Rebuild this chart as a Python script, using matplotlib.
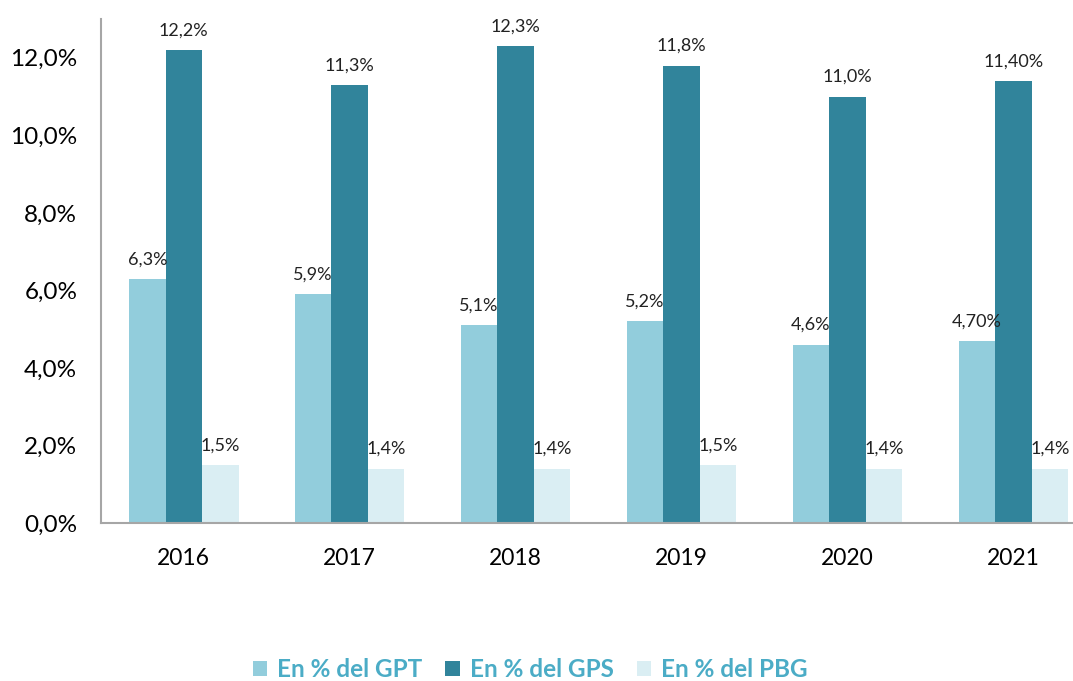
import matplotlib.pyplot as plt
import numpy as np

plt.rcParams['font.family'] = ['Lato', 'DejaVu Sans']

years = ['2016', '2017', '2018', '2019', '2020', '2021']
gpt = [6.3, 5.9, 5.1, 5.2, 4.6, 4.7]
gps = [12.2, 11.3, 12.3, 11.8, 11.0, 11.4]
pbg = [1.5, 1.4, 1.4, 1.5, 1.4, 1.4]
gpt_lbl = ['6,3%', '5,9%', '5,1%', '5,2%', '4,6%', '4,70%']
gps_lbl = ['12,2%', '11,3%', '12,3%', '11,8%', '11,0%', '11,40%']
pbg_lbl = ['1,5%', '1,4%', '1,4%', '1,5%', '1,4%', '1,4%']
series = ['En % del GPT', 'En % del GPS', 'En % del PBG']
colors = ['#92CDDC', '#31849B', '#DAEEF3']

fig = plt.figure(figsize=(10.73, 6.81), dpi=100)
ax = fig.add_axes([0.094, 0.232, 0.906, 0.740])

x = np.arange(len(years))
w = 0.22
for i, (vals, lbls) in enumerate([(gpt, gpt_lbl), (gps, gps_lbl), (pbg, pbg_lbl)]):
    pos = x + (i - 1) * w
    ax.bar(pos, vals, w, color=colors[i], label=series[i])
    for p, v, t in zip(pos, vals, lbls):
        ax.text(p, v + 0.3, t, ha='center', va='bottom', fontsize=13, color='#222222')

ax.set_xlim(-0.5, 5.36)
ax.set_ylim(0, 13)
ax.set_yticks(np.arange(0, 13, 2))
ax.set_yticklabels([('%.1f%%' % v).replace('.', ',') for v in np.arange(0, 13, 2)], fontsize=17.5)
ax.set_xticks(x)
ax.set_xticklabels(years, fontsize=16.5)
ax.tick_params(length=0)
ax.tick_params(axis='y', pad=17)
ax.tick_params(axis='x', pad=18)
for s in ['top', 'right']:
    ax.spines[s].set_visible(False)
for s in ['left', 'bottom']:
    ax.spines[s].set_color('#A6A6A6')
    ax.spines[s].set_linewidth(1.5)

leg = fig.legend(loc='lower center', bbox_to_anchor=(0.494, -0.032), ncol=3, frameon=False,
                 handlelength=0.6, handleheight=0.6, columnspacing=0.95, handletextpad=0.4,
                 prop={'size': 17.5, 'weight': 'bold'})
for t in leg.get_texts():
    t.set_color('#4BACC6')

fig.savefig('out.png', dpi=100)
